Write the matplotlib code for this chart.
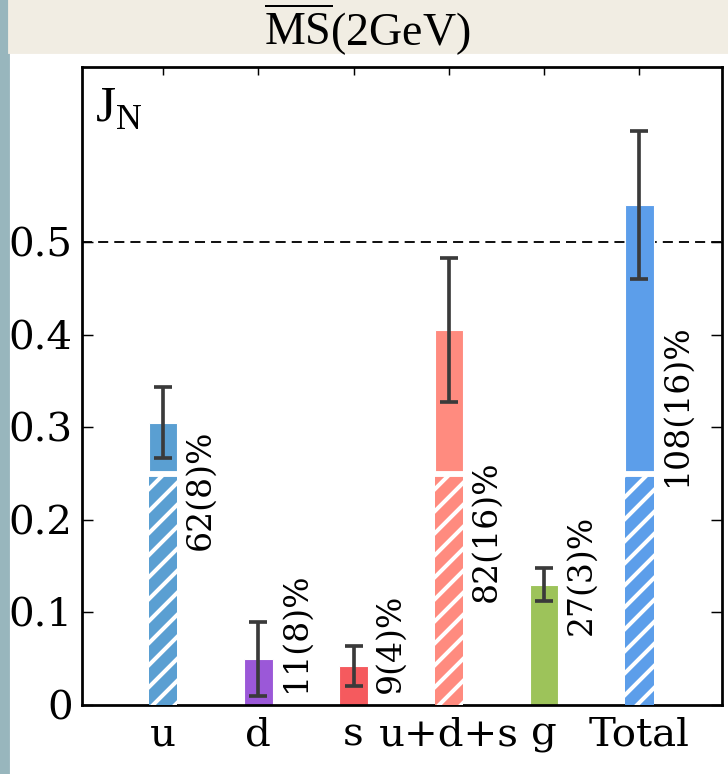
import matplotlib.pyplot as plt
from matplotlib.patches import Rectangle

plt.rcParams['mathtext.fontset'] = 'custom'
plt.rcParams['mathtext.rm'] = 'Liberation Serif'
plt.rcParams['hatch.linewidth'] = 2.2

# angular momentum contributions at MSbar(2GeV)
labels = ['u', 'd', 's', 'u+d+s', 'g', 'Total']
values = [0.305, 0.050, 0.042, 0.405, 0.130, 0.540]
errors = [0.038, 0.040, 0.022, 0.078, 0.018, 0.080]
percent = ['62(8)%', '11(8)%', '9(4)%', '82(16)%', '27(3)%', '108(16)%']
colors = ['#5a9fd2', '#9b58d8', '#f55a5e', '#ff8b7f', '#9dc35a', '#5c9eea']
# lower part of the bar drawn hatched (None = plain bar)
split = [0.25, None, None, 0.25, None, 0.25]
# where the rotated percentage text starts
label_pos = [0.167, 0.014, 0.013, 0.111, 0.076, 0.236]

dpi = 132
fig = plt.figure(figsize=(728 / dpi, 774 / dpi), dpi=dpi)

# page background: textured strip on the left, beige header band
fig.patches.append(Rectangle((0, 0), 9 / 728, 1, transform=fig.transFigure,
                             color='#98b6bd', zorder=0))
fig.patches.append(Rectangle((9 / 728, 1 - 53 / 774), 1, 53 / 774,
                             transform=fig.transFigure, color='#f1ede3', zorder=0))
fig.text(0.505, 0.962, r'$\overline{\mathrm{MS}}\mathrm{(2GeV)}$', fontsize=25,
         ha='center', va='center')

ax = fig.add_axes([82 / 728, 1 - 705 / 774, 640 / 728, 638 / 774])
x = list(range(len(labels)))
w = 0.3

ax.axhline(0.5, color='black', lw=1.0, dashes=(5.5, 3.3), zorder=1)

for i in x:
    ax.bar(i, values[i], width=w, color=colors[i], edgecolor='white', lw=0.6, zorder=2)
    if split[i] is not None:
        ax.bar(i, split[i], width=w, color=colors[i], edgecolor='white',
               hatch='//', lw=0, zorder=3)
        ax.hlines(split[i], i - w / 2, i + w / 2, color='white', lw=3.2, zorder=4)
    ax.text(i + 0.225, label_pos[i], percent[i], rotation=90, ha='left',
            va='bottom', fontsize=18, family='DejaVu Serif')

ax.errorbar(x, values, yerr=errors, fmt='none', ecolor='#3a3a3a', elinewidth=2.0,
            capsize=4.8, capthick=2.0, zorder=5)

ax.set_xlim(-0.85, 5.866)
ax.set_ylim(0, 0.689)
ax.set_xticks(x)
ax.set_xticklabels(labels)
ax.set_yticks([0, 0.1, 0.2, 0.3, 0.4, 0.5])
ax.set_yticklabels(['0', '0.1', '0.2', '0.3', '0.4', '0.5'])
ax.tick_params(direction='in', top=True, right=True, length=6, width=0.8,
               labelsize=22, pad=5)
ax.tick_params(axis='x', length=4.5, pad=6)
for lab in ax.get_xticklabels() + ax.get_yticklabels():
    lab.set_family('DejaVu Serif')
for sp in ax.spines.values():
    sp.set_linewidth(1.5)

ax.text(0.02, 0.975, r'$\mathrm{J}_{\mathrm{N}}$', transform=ax.transAxes,
        fontsize=28, ha='left', va='top')

fig.savefig('out.png', dpi=dpi)
